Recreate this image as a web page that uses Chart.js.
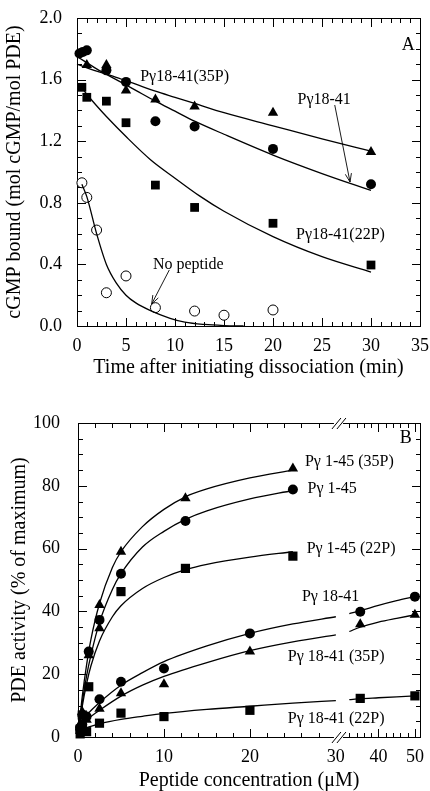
<!DOCTYPE html>
<html>
<head>
<meta charset="utf-8">
<script src="https://cdn.jsdelivr.net/npm/chart.js@4.4.1/dist/chart.umd.min.js"></script>
<style>
  html, body { margin: 0; padding: 0; background: #fff; }
  canvas { position: absolute; left: 0; }
  #chartA { top: 0; }
  #chartB { top: 395px; }
</style>
</head>
<body>
<canvas id="chartA" width="430" height="395"></canvas>
<canvas id="chartB" width="430" height="396"></canvas>
<script>
// ---------- Panel A : cGMP dissociation ----------
const timeCircles = [0.25, 0.6, 1, 3, 5, 8, 12, 20, 30];
const boundPg1841 = [1.77, 1.78, 1.79, 1.66, 1.585, 1.33, 1.295, 1.15, 0.92];
const timeTriangles = [1, 3, 5, 8, 12, 20, 30];
const boundPg1841_35P = [1.695, 1.695, 1.53, 1.47, 1.425, 1.385, 1.13];
const timeSquares = [0.5, 1, 3, 5, 8, 12, 20, 30];
const boundPg1841_22P = [1.55, 1.485, 1.46, 1.32, 0.915, 0.77, 0.667, 0.396];
const timeOpen = [0.5, 1, 2, 3, 5, 8, 12, 15, 20];
const boundNoPeptide = [0.93, 0.835, 0.623, 0.216, 0.325, 0.119, 0.097, 0.07, 0.104];

// fitted curves
const fitTimeA = [0, 2, 4, 6, 8, 10, 12, 15, 20, 25, 30];
const fit35P = [1.70, 1.655, 1.615, 1.57, 1.525, 1.485, 1.445, 1.385, 1.30, 1.215, 1.135];
const fitPg1841 = [1.75, 1.67, 1.60, 1.53, 1.46, 1.395, 1.33, 1.245, 1.11, 0.99, 0.88];
const fitTime22P = [0.5, 1, 2, 3, 5, 7.5, 10, 12.5, 15, 20, 25, 30];
const fit22P = [1.545, 1.505, 1.43, 1.36, 1.23, 1.08, 0.96, 0.845, 0.745, 0.58, 0.45, 0.35];
const fitTimeNone = [0.5, 1, 2, 3, 4, 5, 6, 7.5, 9.5, 11, 13, 15, 17];
const fitNone = [0.92, 0.84, 0.60, 0.40, 0.28, 0.20, 0.15, 0.10, 0.05, 0.025, 0.01, 0.003, 0];

const xTicksA = [0, 5, 10, 15, 20, 25, 30, 35];
const xMinorA = [...Array(36).keys()];
const yTicksA = [0, 0.4, 0.8, 1.2, 1.6, 2.0];
const yMinorA = [...Array(21).keys()].map(i => i / 10);

// ---------- Panel B : PDE activation ----------
const concPg145 = [0.25, 0.5, 1.25, 2.5, 5, 12.5, 25];
const actPg145_35P = [4, 8, 26, 42, 59, 76, 85.5];
const actPg145 = [3, 7, 27.2, 37.3, 52, 68.8, 78.8];
const actPg145_22P = [2.5, 7, 16, 46.3, 53.7, 57.6];
const concPg145_22P = [0.25, 0.5, 1.25, 5, 12.5, 25];
const concPg1841 = [0.25, 0.5, 1, 2.5, 5, 10, 20, 35, 50];
const actPg1841 = [2.5, 4, 6.5, 12, 17.6, 21.8, 33, 39.9, 44.7];
const actPg1841_35P = [2, 3.5, 5.5, 9, 13.9, 16.8, 27.2, 35.9, 38.9];
const actPg1841_22P = [1, 2.2, 1.7, 4.4, 7.6, 6.5, 8.5, 12.3, 13.1];
const extraConc35P = [2.5];
const extraAct35P = [34.6];

const fitConcHigh = [0, 0.5, 1, 1.5, 2.5, 4, 5, 7.5, 10, 12.5, 15, 20, 25];
const fitPg145_35P = [0, 13, 23, 31, 42.5, 54, 59, 67, 72.5, 76.5, 79, 82.5, 85];
const fitPg145 = [0, 11, 19.5, 26, 36.5, 47, 52, 60.5, 65.5, 69.3, 72, 75.8, 78.5];
const fitPg145_22P = [0, 9.8, 17, 22.6, 30.6, 38.3, 41.8, 47.3, 50.8, 53.3, 55, 57.3, 59];
const fitConcLow = [0.25, 1, 2.5, 5, 7.5, 10, 15, 20, 25, 30, 31, 32, 35, 40, 45, 50];
const fitPg1841B = [4.5, 7, 11, 16.5, 20.5, 24, 29, 33, 36, 38.3, null, 39.3, 40.2, 41.9, 43.4, 44.7];
const fitPg1841B_35P = [4, 5.5, 8.5, 13, 16.5, 19.3, 23.7, 27.5, 30.3, 32.5, null, 33.6, 35, 36.6, 37.8, 38.9];
const fitPg1841B_22P = [2.5, 3, 4.2, 5.6, 6.6, 7.5, 8.8, 9.8, 10.8, 11.6, null, 11.9, 12.2, 12.5, 12.8, 13.1];

const xTicksB = [0, 10, 20, 30, 40, 50];
const xMajorB = [0, 10, 20, 40, 50];
const xMinorB = [2, 4, 6, 8, 12, 14, 16, 18, 22, 24, 26, 28, 32, 34, 36, 38, 42, 44, 46, 48];
const yTicksB = [0, 20, 40, 60, 80, 100];
const yMinorB = [...Array(21).keys()].map(i => i * 5);

const SERIF = '"Liberation Serif", "Times New Roman", serif';
Chart.defaults.font.family = SERIF;
Chart.defaults.color = '#000';

const pts = (xs, ys) => xs.map((x, i) => ({ x: x, y: ys[i] }));

// x axis with a break: 0-30 on the left part, 30-max squeezed on the right
class BrokenLinearScale extends Chart.LinearScale {
  getPixelForValue(value) {
    const o = this.options.broken;
    const w = this.right - this.left;
    if (value <= o.at) return this.left + (value - this.min) / (o.at - this.min) * o.leftFrac * w;
    return this.left + o.rightStart * w + (value - o.at) / (this.max - o.at) * (1 - o.rightStart) * w;
  }
  getValueForPixel(pixel) {
    const o = this.options.broken;
    const f = (pixel - this.left) / (this.right - this.left);
    if (f <= o.leftFrac) return this.min + f / o.leftFrac * (o.at - this.min);
    return o.at + (f - o.rightStart) / (1 - o.rightStart) * (this.max - o.at);
  }
}
BrokenLinearScale.id = 'brokenLinear';
BrokenLinearScale.defaults = {};
Chart.register(BrokenLinearScale);

// frame with inward ticks on all sides, axis break, labels and arrows
const framePlugin = {
  id: 'frame',
  beforeDatasetsDraw(chart, args, opts) {
    const { ctx, chartArea: a, scales: { x, y } } = chart;
    const L = Math.round(a.left) + 0.5, R = Math.round(a.right) + 0.5;
    const T = Math.round(a.top) + 0.5, B = Math.round(a.bottom) + 0.5;
    ctx.save();
    ctx.strokeStyle = '#000';
    ctx.lineWidth = 1;
    ctx.strokeRect(L, T, R - L, B - T);
    ctx.beginPath();
    const xt = (v, len) => {
      const p = Math.round(x.getPixelForValue(v)) + 0.5;
      ctx.moveTo(p, B); ctx.lineTo(p, B - len);
      ctx.moveTo(p, T); ctx.lineTo(p, T + len);
    };
    const yt = (v, len) => {
      const p = Math.round(y.getPixelForValue(v)) + 0.5;
      ctx.moveTo(L, p); ctx.lineTo(L + len, p);
      ctx.moveTo(R, p); ctx.lineTo(R - len, p);
    };
    opts.xMinor.forEach(v => xt(v, 4.5));
    opts.xMajor.forEach(v => xt(v, 8.5));
    opts.yMinor.forEach(v => yt(v, 4.5));
    opts.yMajor.forEach(v => yt(v, 8.5));
    ctx.stroke();
    if (opts.breakAt != null) {
      const p = (x.getPixelForValue(opts.breakAt) + x.getPixelForValue(opts.breakAt + 1e-6)) / 2;
      ctx.fillStyle = '#fff';
      [T, B].forEach(yy => ctx.fillRect(p - 5, yy - 2, 9, 4));
      ctx.beginPath();
      [T, B].forEach(yy => {
        [-2.5, 2.5].forEach(off => {
          ctx.moveTo(p + off - 4.5, yy + 5.5);
          ctx.lineTo(p + off + 4.5, yy - 5.5);
        });
      });
      ctx.stroke();
    }
    ctx.restore();
  },
  afterDatasetsDraw(chart, args, opts) {
    const { ctx, scales: { x, y } } = chart;
    ctx.save();
    ctx.fillStyle = '#000';
    ctx.strokeStyle = '#000';
    ctx.textBaseline = 'middle';
    (opts.labels || []).forEach(l => {
      ctx.font = (l.size || 16) + 'px ' + SERIF;
      ctx.textAlign = l.align || 'left';
      ctx.fillText(l.text, x.getPixelForValue(l.x), y.getPixelForValue(l.y));
    });
    ctx.lineWidth = 0.9;
    (opts.arrows || []).forEach(ar => {
      const x1 = x.getPixelForValue(ar.x1), y1 = y.getPixelForValue(ar.y1);
      const x2 = x.getPixelForValue(ar.x2), y2 = y.getPixelForValue(ar.y2);
      const ang = Math.atan2(y2 - y1, x2 - x1);
      ctx.beginPath();
      ctx.moveTo(x1, y1); ctx.lineTo(x2, y2);
      [0.35, -0.35].forEach(d => {
        ctx.moveTo(x2, y2);
        ctx.lineTo(x2 - 9 * Math.cos(ang + d), y2 - 9 * Math.sin(ang + d));
      });
      ctx.stroke();
    });
    ctx.restore();
  }
};

const curve = (xs, ys) => ({
  data: pts(xs, ys), showLine: true, pointRadius: 0, borderColor: '#000',
  borderWidth: 1.3, cubicInterpolationMode: 'monotone', clip: false
});
const marks = (xs, ys, style, r, open) => ({
  data: pts(xs, ys), showLine: false, pointStyle: style, pointRadius: r,
  backgroundColor: open ? '#fff' : '#000', borderColor: '#000',
  pointBorderWidth: open ? 1 : 0, clip: false
});

const tickFont = { family: SERIF, size: 18 };
const titleFont = { family: SERIF, size: 20, lineHeight: 1 };

new Chart(document.getElementById('chartA'), {
  type: 'scatter',
  data: {
    datasets: [
      curve(fitTimeA, fit35P),
      curve(fitTimeA, fitPg1841),
      curve(fitTime22P, fit22P),
      curve(fitTimeNone, fitNone),
      marks(timeTriangles, boundPg1841_35P, 'triangle', 6),
      marks(timeCircles, boundPg1841, 'circle', 5),
      marks(timeSquares, boundPg1841_22P, 'rect', 6.2),
      marks(timeOpen, boundNoPeptide, 'circle', 5, true)
    ]
  },
  options: {
    responsive: false,
    animation: false,
    layout: { padding: { top: 18, right: 10, left: 0, bottom: 0 } },
    plugins: {
      legend: { display: false },
      tooltip: { enabled: false },
      frame: {
        xMajor: xTicksA, xMinor: xMinorA, yMajor: yTicksA, yMinor: yMinorA,
        labels: [
          { text: 'A', x: 33.8, y: 1.825, align: 'center', size: 18 },
          { text: 'Pγ18-41(35P)', x: 6.45, y: 1.62 },
          { text: 'Pγ18-41', x: 22.5, y: 1.47 },
          { text: 'Pγ18-41(22P)', x: 22.35, y: 0.59 },
          { text: 'No peptide', x: 7.75, y: 0.395 }
        ],
        arrows: [
          { x1: 26.3, y1: 1.435, x2: 27.86, y2: 0.935 },
          { x1: 9.42, y1: 0.364, x2: 7.62, y2: 0.143 }
        ]
      }
    },
    scales: {
      x: {
        type: 'linear', min: 0, max: 35,
        afterBuildTicks: s => { s.ticks = xTicksA.map(v => ({ value: v })); },
        afterFit: s => { s.height = 69; },
        grid: { display: false }, border: { display: false },
        ticks: { font: tickFont, padding: 1, maxRotation: 0, autoSkip: false },
        title: { display: true, text: 'Time after initiating dissociation (min)', font: titleFont, padding: { top: 0, bottom: 17 } }
      },
      y: {
        type: 'linear', min: 0, max: 2,
        afterBuildTicks: s => { s.ticks = yTicksA.map(v => ({ value: v })); },
        afterFit: s => { s.width = 77; },
        grid: { display: false }, border: { display: false },
        ticks: { font: tickFont, padding: 7, callback: v => v.toFixed(1) },
        title: { display: true, text: 'cGMP bound (mol cGMP/mol PDE)', font: titleFont, padding: { top: 5, bottom: 0 } }
      }
    }
  },
  plugins: [framePlugin]
});

new Chart(document.getElementById('chartB'), {
  type: 'scatter',
  data: {
    datasets: [
      curve(fitConcHigh, fitPg145_35P),
      curve(fitConcHigh, fitPg145),
      curve(fitConcHigh, fitPg145_22P),
      curve(fitConcLow, fitPg1841B),
      curve(fitConcLow, fitPg1841B_35P),
      curve(fitConcLow, fitPg1841B_22P),
      marks(concPg145, actPg145_35P, 'triangle', 6),
      marks(extraConc35P, extraAct35P, 'triangle', 6),
      marks(concPg145, actPg145, 'circle', 5),
      marks(concPg145_22P, actPg145_22P, 'rect', 6.5),
      marks(concPg1841, actPg1841, 'circle', 5),
      marks(concPg1841, actPg1841_35P, 'triangle', 6),
      marks(concPg1841, actPg1841_22P, 'rect', 6.5)
    ]
  },
  options: {
    responsive: false,
    animation: false,
    layout: { padding: { top: 28, right: 10, left: 0, bottom: 0 } },
    plugins: {
      legend: { display: false },
      tooltip: { enabled: false },
      frame: {
        xMajor: xMajorB, xMinor: xMinorB, yMajor: yTicksB, yMinor: yMinorB, breakAt: 30,
        labels: [
          { text: 'B', x: 47.5, y: 95.2, align: 'center', size: 18 },
          { text: 'Pγ 1-45 (35P)', x: 26.4, y: 87.6 },
          { text: 'Pγ 1-45', x: 26.7, y: 79 },
          { text: 'Pγ 1-45 (22P)', x: 26.6, y: 59.9 },
          { text: 'Pγ 18-41', x: 26.05, y: 44.5 },
          { text: 'Pγ 18-41 (35P)', x: 24.4, y: 25.5 },
          { text: 'Pγ 18-41 (22P)', x: 24.4, y: 5.7 }
        ]
      }
    },
    scales: {
      x: {
        type: 'brokenLinear', min: 0, max: 51.4,
        broken: { at: 30, leftFrac: 0.754, rightStart: 0.772 },
        afterBuildTicks: s => { s.ticks = xTicksB.map(v => ({ value: v })); },
        afterFit: s => { s.height = 54; },
        grid: { display: false }, border: { display: false },
        ticks: { font: tickFont, padding: 1, maxRotation: 0, autoSkip: false, callback: v => String(v) },
        title: { display: true, text: 'Peptide concentration (μM)', font: titleFont, padding: { top: 0, bottom: 0 } }
      },
      y: {
        type: 'linear', min: 0, max: 100,
        afterBuildTicks: s => { s.ticks = yTicksB.map(v => ({ value: v })); },
        afterFit: s => { s.width = 78; },
        grid: { display: false }, border: { display: false },
        ticks: { font: tickFont, padding: 10 },
        title: { display: true, text: 'PDE activity (% of maximum)', font: titleFont, padding: { top: 10, bottom: 0 } }
      }
    }
  },
  plugins: [framePlugin]
});
</script>
</body>
</html>
